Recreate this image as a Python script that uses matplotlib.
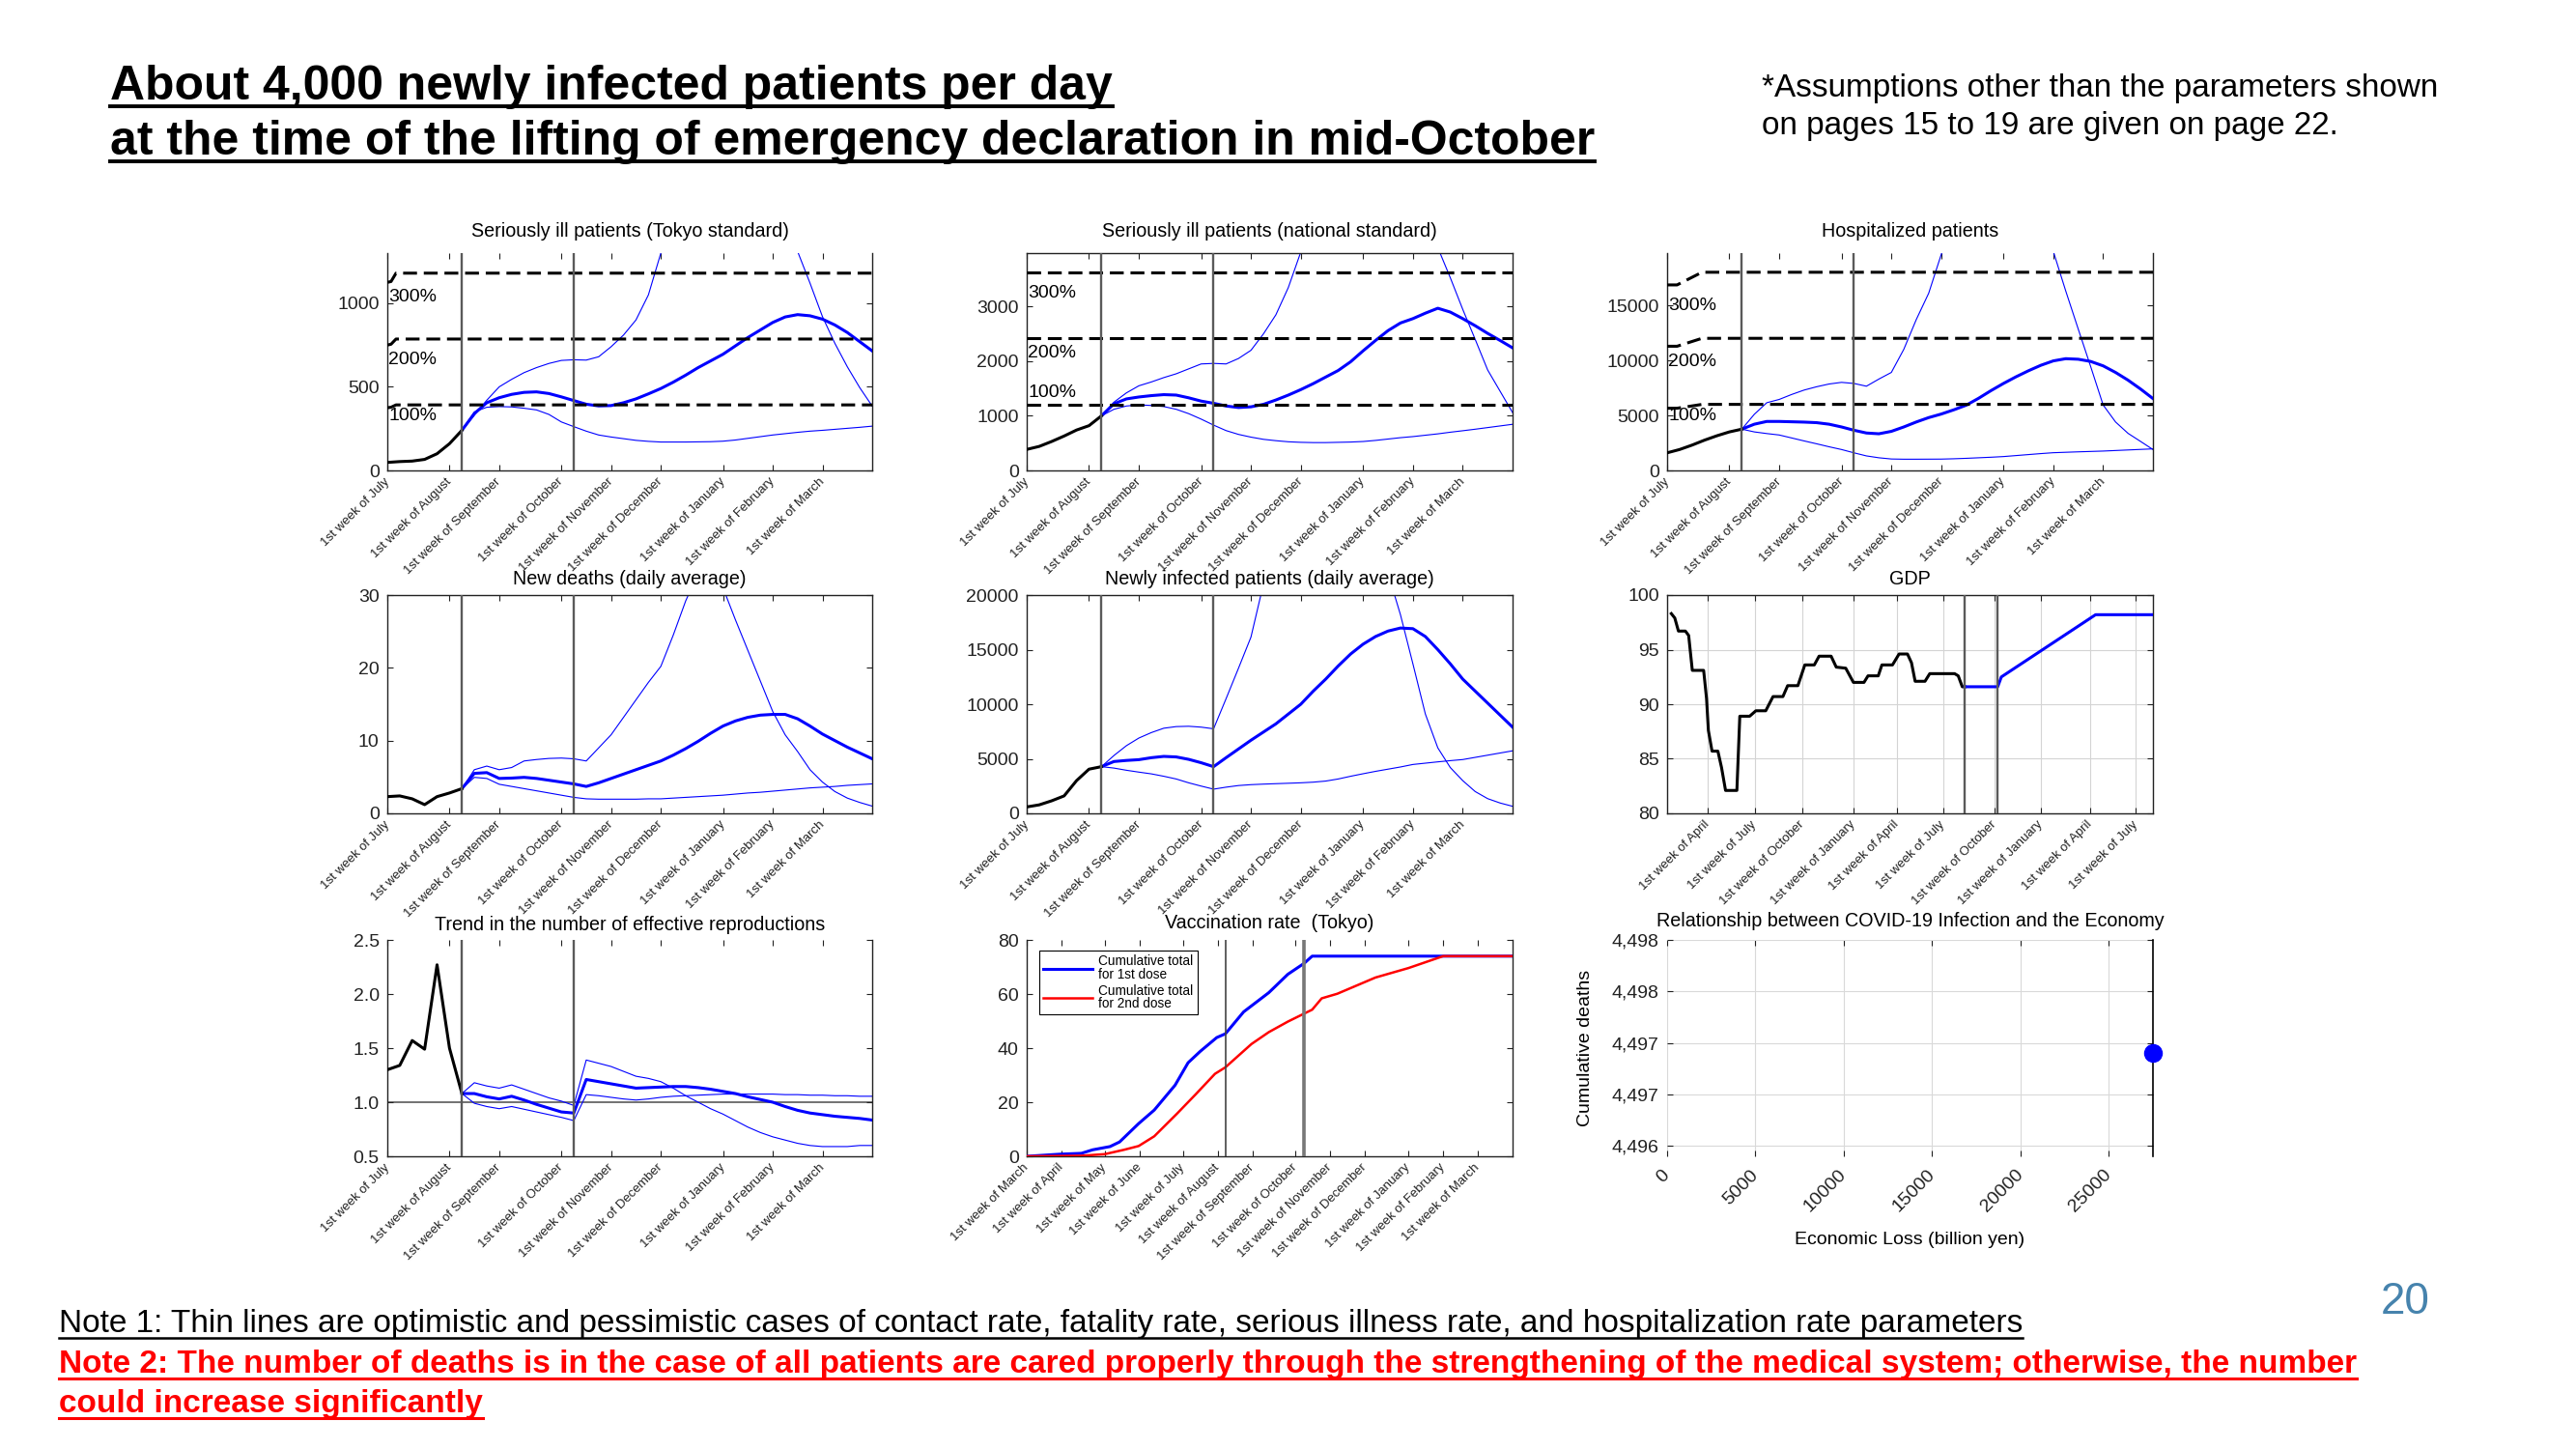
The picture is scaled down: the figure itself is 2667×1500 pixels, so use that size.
import matplotlib
matplotlib.use('Agg')
import matplotlib.pyplot as plt
from matplotlib.lines import Line2D
import numpy as np

plt.rcParams['font.family'] = ['Liberation Sans', 'DejaVu Sans']

# ---------------- slide text ----------------
header_lines = ['About 4,000 newly infected patients per day',
                'at the time of the lifting of emergency declaration in mid-October']
side_note = ['*Assumptions other than the parameters shown',
             'on pages 15 to 19 are given on page 22.']
note1 = 'Note 1: Thin lines are optimistic and pessimistic cases of contact rate, fatality rate, serious illness rate, and hospitalization rate parameters'
note2 = ['Note 2: The number of deaths is in the case of all patients are cared properly through the strengthening of the medical system; otherwise, the number',
         'could increase significantly']
page_no = '20'

# ---------------- simulation panels (weeks from 1st week of July) ----------------
hist_weeks = np.arange(0, 7)
proj_weeks = np.arange(6, 40)
month_ticks = [0, 5, 9, 14, 18, 22, 27, 31, 35]
month_labels = ['1st week of July', '1st week of August', '1st week of September',
                '1st week of October', '1st week of November', '1st week of December',
                '1st week of January', '1st week of February', '1st week of March']
emergency_weeks = [6, 15]
pct_labels = ['100%', '200%', '300%']

# seriously ill (Tokyo standard)
tokyo_hist = [48, 53, 56, 66, 100, 160, 240]
tokyo_main = [240, 340, 405, 435, 455, 467, 470, 460, 440, 418, 396, 386, 388, 405, 428, 458, 490,
              528, 570, 615, 655, 695, 745, 795, 840, 885, 918, 932, 925, 905, 870, 825, 770, 715]
tokyo_high = [240, 330, 420, 500, 545, 585, 615, 640, 658, 662, 660, 680, 740, 810, 900, 1050, 1300,
              1600, 1900, 2150, 2350, 2450, 2450, 2350, 2150, 1900, 1600, 1310, 1120, 920, 760, 620, 495, 385]
tokyo_low = [240, 350, 378, 382, 380, 372, 362, 335, 290, 262, 235, 212, 200, 190, 180, 174, 170,
             170, 170, 171, 172, 175, 182, 192, 202, 212, 220, 228, 235, 240, 246, 252, 258, 265]
tokyo_cap_x = [0, 0.3, 0.7, 39]
tokyo_cap100 = [375, 378, 392, 392]
tokyo_cap200 = [750, 755, 786, 786]
tokyo_cap300 = [1125, 1130, 1180, 1180]
tokyo_pct_y = [327, 663, 1035]

# seriously ill (national standard)
nat_hist = [385, 440, 530, 630, 740, 820, 1000]
nat_main = [1000, 1220, 1310, 1345, 1370, 1388, 1380, 1330, 1270, 1230, 1180, 1152, 1165, 1210, 1290, 1380, 1480,
            1590, 1710, 1830, 1990, 2190, 2380, 2560, 2700, 2780, 2880, 2970, 2900, 2780, 2650, 2510, 2380, 2245]
nat_high = [1000, 1250, 1420, 1550, 1620, 1700, 1770, 1860, 1950, 1960, 1950, 2050, 2200, 2500, 2850, 3350, 4000,
            4700, 5400, 6000, 6500, 6900, 7000, 6800, 6300, 5600, 4800, 4080, 3530, 2950, 2400, 1840, 1450, 1060]
nat_low = [1000, 1120, 1180, 1200, 1190, 1170, 1120, 1040, 940, 830, 730, 660, 610, 570, 545, 525, 515,
           510, 510, 515, 520, 530, 550, 575, 600, 620, 645, 670, 700, 727, 755, 785, 815, 845]
nat_cap_x = [0, 39]
nat_cap100 = [1210, 1210]
nat_cap200 = [2420, 2420]
nat_cap300 = [3630, 3630]
nat_pct_y = [1418, 2156, 3249]

# hospitalized patients
hosp_hist = [1600, 1900, 2300, 2750, 3150, 3500, 3750]
hosp_main = [3750, 4200, 4450, 4450, 4420, 4390, 4340, 4200, 3950, 3650, 3400, 3330, 3550, 3950, 4400, 4800, 5120,
             5500, 5920, 6550, 7250, 7900, 8500, 9050, 9550, 9950, 10150, 10100, 9900, 9500, 8900, 8200, 7400, 6530]
hosp_high = [3750, 5100, 6150, 6450, 6900, 7300, 7600, 7850, 8000, 7900, 7650, 8300, 8900, 11000, 13700, 16100, 19600,
             23000, 26000, 28500, 30000, 30500, 29500, 27000, 23500, 19900, 16300, 12850, 9440, 5950, 4400, 3370, 2640, 1900]
hosp_low = [3750, 3500, 3350, 3220, 2950, 2680, 2420, 2150, 1900, 1600, 1320, 1150, 1040, 1020, 1020, 1025, 1030,
            1060, 1100, 1150, 1200, 1260, 1350, 1440, 1530, 1610, 1650, 1690, 1725, 1760, 1810, 1860, 1910, 1960]
hosp_cap_x = [0, 0.8, 2.8, 39]
hosp_cap100 = [5650, 5650, 6000, 6000]
hosp_cap200 = [11280, 11280, 12000, 12000]
hosp_cap300 = [16850, 16850, 18000, 18000]
hosp_pct_y = [4920, 9900, 14940]

# new deaths
death_hist = [2.3, 2.4, 2.0, 1.2, 2.3, 2.8, 3.4]
death_main = [3.4, 5.5, 5.6, 4.8, 4.85, 4.95, 4.8, 4.55, 4.3, 4.05, 3.7, 4.2, 4.8, 5.4, 6.0, 6.6, 7.2,
              8.0, 8.9, 9.9, 11.0, 12.0, 12.7, 13.2, 13.5, 13.6, 13.6, 13.0, 12.0, 10.9, 10.0, 9.1, 8.3, 7.5]
death_high = [3.4, 6.0, 6.5, 6.0, 6.3, 7.2, 7.4, 7.55, 7.6, 7.5, 7.2, 9.0, 10.8, 13.2, 15.6, 18.0, 20.2,
              24.5, 29.2, 33.0, 34.0, 31.0, 26.6, 22.4, 18.2, 14.0, 10.8, 8.5, 6.0, 4.3, 3.0, 2.1, 1.5, 1.0]
death_low = [3.4, 4.95, 4.8, 4.0, 3.7, 3.4, 3.1, 2.8, 2.5, 2.2, 2.0, 1.95, 1.95, 1.95, 1.95, 2.0, 2.0,
             2.1, 2.2, 2.3, 2.4, 2.5, 2.65, 2.8, 2.9, 3.05, 3.2, 3.35, 3.5, 3.6, 3.7, 3.85, 3.95, 4.05]

# newly infected
inf_hist = [590, 780, 1150, 1600, 3000, 4050, 4280]
inf_main = [4280, 4750, 4850, 4920, 5100, 5220, 5170, 4950, 4640, 4280, 5100, 5900, 6700, 7450, 8200, 9100, 10000,
            11200, 12300, 13500, 14600, 15500, 16200, 16700, 16980, 16920, 16200, 15000, 13700, 12300, 11200, 10100, 9000, 7900]
inf_high = [4280, 5300, 6200, 6900, 7400, 7800, 7950, 7980, 7900, 7750, 10500, 13300, 16150, 21000, 25000, 28000, 30000,
            31000, 31000, 30000, 28500, 26500, 24500, 22000, 18200, 13700, 9100, 6000, 4200, 3000, 2000, 1350, 950, 650]
inf_low = [4280, 4150, 3950, 3780, 3620, 3400, 3150, 2800, 2500, 2220, 2400, 2550, 2630, 2680, 2720, 2760, 2800,
           2860, 2960, 3150, 3400, 3630, 3850, 4050, 4250, 4480, 4600, 4720, 4830, 4930, 5130, 5330, 5530, 5730]

# effective reproduction number
r_hist = [1.30, 1.34, 1.57, 1.49, 2.27, 1.50, 1.08]
r_main = [1.08, 1.08, 1.05, 1.03, 1.055, 1.02, 0.98, 0.945, 0.91, 0.90, 1.21, 1.19, 1.17, 1.15, 1.13, 1.135, 1.14,
          1.145, 1.145, 1.135, 1.12, 1.10, 1.08, 1.05, 1.025, 1.00, 0.96, 0.925, 0.90, 0.885, 0.87, 0.86, 0.85, 0.835]
r_high = [1.08, 1.18, 1.15, 1.13, 1.16, 1.12, 1.08, 1.04, 1.01, 0.97, 1.39, 1.36, 1.33, 1.285, 1.24, 1.22, 1.19,
          1.13, 1.06, 1.00, 0.94, 0.89, 0.83, 0.77, 0.72, 0.68, 0.65, 0.62, 0.60, 0.59, 0.59, 0.59, 0.60, 0.60]
r_low = [1.08, 0.99, 0.96, 0.94, 0.96, 0.935, 0.91, 0.885, 0.86, 0.83, 1.07, 1.06, 1.045, 1.03, 1.02, 1.03, 1.045,
         1.055, 1.06, 1.065, 1.07, 1.075, 1.075, 1.075, 1.075, 1.075, 1.07, 1.07, 1.065, 1.065, 1.06, 1.06, 1.055, 1.055]

# ---------------- GDP (weeks from mid-January 2020) ----------------
gdp_week = [1.15, 2.1, 3.1, 5.0, 5.9, 6.9, 10.0, 10.8, 11.3, 12.3, 13.9, 14.9, 16.0, 19.1, 19.9, 22.6, 24.3,
            27.0, 29.0, 31.7, 33.0, 35.8, 37.7, 40.3, 41.6, 44.9, 46.3, 48.9, 51.0, 53.9, 55.0, 57.8, 58.8,
            61.7, 63.5, 65.8, 66.9, 67.9, 70.6, 71.9, 78.7, 79.7, 80.8, 81.5]
gdp_value = [98.3, 97.9, 96.7, 96.7, 96.3, 93.1, 93.1, 90.5, 87.6, 85.7, 85.7, 84.2, 82.1, 82.1, 88.9, 88.9, 89.4,
             89.4, 90.7, 90.7, 91.7, 91.7, 93.6, 93.6, 94.4, 94.4, 93.4, 93.3, 92.0, 92.0, 92.6, 92.6, 93.6,
             93.6, 94.6, 94.6, 93.8, 92.1, 92.1, 92.8, 92.8, 92.6, 91.6, 91.6]
gdp_proj_week = [81.5, 90.5, 91.5, 117.3, 133]
gdp_proj_value = [91.6, 91.6, 92.5, 98.2, 98.2]
gdp_ticks = [11, 24, 37, 51, 63, 75.5, 89.7, 102.4, 115.8, 128.3]
gdp_labels = ['1st week of April', '1st week of July', '1st week of October', '1st week of January',
              '1st week of April', '1st week of July', '1st week of October', '1st week of January',
              '1st week of April', '1st week of July']
gdp_vlines = [81.5, 90.5]

# ---------------- vaccination (weeks from 1st week of March) ----------------
vac1_week = [0, 3.9, 6.3, 7.6, 9.6, 10.7, 12.9, 14.7, 17.1, 18.6, 20.0, 21.9, 22.9, 25.0, 27.9, 30.1, 32.0, 32.9, 56]
vac1_pct = [0, 0.8, 1.1, 2.4, 3.6, 5.3, 12.1, 17.1, 26.3, 34.6, 38.8, 43.9, 45.3, 53.4, 60.5, 67.3, 71.4, 74.0, 74.0]
vac2_week = [0, 6.3, 9.0, 11.2, 12.9, 14.7, 17.3, 19.5, 21.7, 22.9, 25.9, 27.9, 30.1, 32.0, 32.9, 34.0, 35.8,
             40.2, 44.0, 48.0, 56]
vac2_pct = [0, 0.2, 0.8, 2.4, 3.8, 7.4, 15.7, 23.0, 30.5, 32.9, 41.5, 45.9, 49.8, 52.8, 54.2, 58.4, 60.1,
            66.1, 69.6, 74.0, 74.0]
vac_ticks = [0, 4, 9, 13, 18, 22, 26, 31, 35, 39, 44, 48, 52]
vac_labels = ['1st week of March', '1st week of April', '1st week of May', '1st week of June',
              '1st week of July', '1st week of August', '1st week of September', '1st week of October',
              '1st week of November', '1st week of December', '1st week of January',
              '1st week of February', '1st week of March']
vac_vlines = [22.9, 32]

# ---------------- infection vs economy ----------------
econ_loss = [27500]
cum_deaths = [4496.9]
econ_ticks = [0, 5000, 10000, 15000, 20000, 25000]
death_ticks = [4496, 4496.5, 4497, 4497.5, 4498]
death_tick_labels = ['4,496', '4,497', '4,497', '4,498', '4,498']

# ---------------- layout ----------------
W, H = 2667, 1500
fig = plt.figure(figsize=(W / 100, H / 100), dpi=100)
cols = [(401, 903), (1063, 1566), (1726, 2229)]
rows = [(262, 487), (616, 842), (973, 1197)]
AX = '#222222'
VL = '#5a5a5a'
TFS = 14.2   # panel title size
XFS = 9.5    # rotated date labels


def new_ax(c, r):
    l, rr = cols[c]
    t, b = rows[r]
    return fig.add_axes([l / W, 1 - b / H, (rr - l) / W, (b - t) / H])


def style(ax, top=False, xpad=7):
    ax.tick_params(direction='in', top=True, right=True, length=4, width=0.8, colors=AX)
    ax.tick_params(axis='y', labelsize=14, pad=6)
    ax.tick_params(axis='x', pad=xpad)
    for sp in ax.spines.values():
        sp.set_linewidth(1.0)
        sp.set_color(AX)
    ax.spines['top'].set_visible(top)


def sim_panel(ax, title, hist, main, high, low, ylim, yticks, cap_x=None, caps=None,
              pct_y=None, top=False, pad=12):
    ax.plot(proj_weeks, high, color='blue', lw=0.8, zorder=2)
    ax.plot(proj_weeks, low, color='blue', lw=0.8, zorder=2)
    ax.plot(proj_weeks, main, color='blue', lw=2.2, zorder=3)
    ax.plot(hist_weeks, hist, color='black', lw=2.2, zorder=3)
    if caps is not None:
        for cap in caps:
            ax.plot(cap_x, cap, color='black', lw=2.2, ls=(0, (4.7, 2.3)), zorder=4)
        for y, lab in zip(pct_y, pct_labels):
            ax.text(0.08, y, lab, fontsize=14, va='center', ha='left', zorder=5)
    for v in emergency_weeks:
        ax.axvline(v, color=VL, lw=1.7, zorder=4)
    ax.set_xlim(0, 39)
    ax.set_ylim(*ylim)
    ax.set_yticks(yticks)
    style(ax, top=top)
    ax.set_xticks(month_ticks, month_labels, rotation=45, ha='right', va='center',
                  rotation_mode='anchor', fontsize=XFS)
    ax.set_title(title, fontsize=TFS, pad=pad)


ax1 = new_ax(0, 0)
sim_panel(ax1, 'Seriously ill patients (Tokyo standard)', tokyo_hist, tokyo_main, tokyo_high, tokyo_low,
          (0, 1300), [0, 500, 1000], tokyo_cap_x, [tokyo_cap100, tokyo_cap200, tokyo_cap300], tokyo_pct_y)

ax2 = new_ax(1, 0)
sim_panel(ax2, 'Seriously ill patients (national standard)', nat_hist, nat_main, nat_high, nat_low,
          (0, 3980), [0, 1000, 2000, 3000], nat_cap_x, [nat_cap100, nat_cap200, nat_cap300], nat_pct_y, top=True)

ax3 = new_ax(2, 0)
sim_panel(ax3, 'Hospitalized patients', hosp_hist, hosp_main, hosp_high, hosp_low,
          (0, 19740), [0, 5000, 10000, 15000], hosp_cap_x, [hosp_cap100, hosp_cap200, hosp_cap300], hosp_pct_y)

ax4 = new_ax(0, 1)
sim_panel(ax4, 'New deaths (daily average)', death_hist, death_main, death_high, death_low,
          (0, 30), [0, 10, 20, 30], top=True, pad=8)

ax5 = new_ax(1, 1)
sim_panel(ax5, 'Newly infected patients (daily average)', inf_hist, inf_main, inf_high, inf_low,
          (0, 20000), [0, 5000, 10000, 15000, 20000], top=True, pad=8)

ax7 = new_ax(0, 2)
ax7.axhline(1.0, color=VL, lw=1.2, zorder=1)
sim_panel(ax7, 'Trend in the number of effective reproductions', r_hist, r_main, r_high, r_low,
          (0.5, 2.5), [0.5, 1.0, 1.5, 2.0, 2.5], pad=7)
ax7.set_yticklabels(['%.1f' % t for t in [0.5, 1.0, 1.5, 2.0, 2.5]])

# GDP
ax6 = new_ax(2, 1)
ax6.grid(True, color='#d4d4d4', lw=0.8)
ax6.set_axisbelow(True)
ax6.plot(gdp_week, gdp_value, color='black', lw=2.2, zorder=3)
ax6.plot(gdp_proj_week, gdp_proj_value, color='blue', lw=2.2, zorder=3)
for v in gdp_vlines:
    ax6.axvline(v, color=VL, lw=1.7, zorder=4)
ax6.set_xlim(0, 133)
ax6.set_ylim(80, 100)
ax6.set_yticks([80, 85, 90, 95, 100])
style(ax6, top=True)
ax6.set_xticks(gdp_ticks, gdp_labels, rotation=45, ha='right', va='center', rotation_mode='anchor', fontsize=XFS)
ax6.set_title('GDP', fontsize=TFS, pad=8)

# vaccination
ax8 = new_ax(1, 2)
ax8.plot(vac1_week, vac1_pct, color='blue', lw=2.2, zorder=3, label='Cumulative total\nfor 1st dose')
ax8.plot(vac2_week, vac2_pct, color='red', lw=1.8, zorder=3, label='Cumulative total\nfor 2nd dose')
ax8.axvline(vac_vlines[0], color='#444444', lw=1.2, zorder=4)
ax8.axvline(vac_vlines[1], color='#777777', lw=2.6, zorder=4)
ax8.set_xlim(0, 56)
ax8.set_ylim(0, 80)
ax8.set_yticks([0, 20, 40, 60, 80])
style(ax8)
ax8.set_xticks(vac_ticks, vac_labels, rotation=45, ha='right', va='center', rotation_mode='anchor', fontsize=XFS)
ax8.set_title('Vaccination rate  (Tokyo)', fontsize=TFS, pad=9)
leg = ax8.legend(loc='upper left', bbox_to_anchor=(0.026, 0.951), fontsize=9.8, frameon=True, fancybox=False,
                 edgecolor='black', framealpha=1, handlelength=3.7, borderpad=0.3, labelspacing=0.25,
                 handletextpad=0.5, borderaxespad=0)
leg.get_frame().set_linewidth(0.8)
for t in leg.get_texts():
    t.set_linespacing(0.95)

# infection vs economy
ax9 = new_ax(2, 2)
ax9.grid(True, color='#d9d9d9', lw=0.8)
ax9.set_axisbelow(True)
ax9.plot(econ_loss, cum_deaths, 'o', color='blue', ms=13, clip_on=False, zorder=5)
ax9.set_xlim(0, 27500)
ax9.set_ylim(4495.9, 4498.0)
ax9.set_xticks(econ_ticks, [str(v) for v in econ_ticks], rotation=45, ha='right', va='center',
               rotation_mode='anchor', fontsize=14)
ax9.set_yticks(death_ticks, death_tick_labels)
ax9.tick_params(direction='in', top=True, right=True, length=4, width=0.8, colors=AX)
ax9.tick_params(axis='y', labelsize=14, pad=6)
ax9.tick_params(axis='x', pad=12)
for name in ['left', 'top', 'bottom']:
    ax9.spines[name].set_visible(False)
ax9.spines['right'].set_color('black')
ax9.spines['right'].set_linewidth(1.2)
ax9.set_title('Relationship between COVID-19 Infection and the Economy', fontsize=TFS, pad=10)
ax9.set_xlabel('Economic Loss (billion yen)', fontsize=14)
ax9.xaxis.set_label_coords(0.5, -0.348)
ax9.set_ylabel('Cumulative deaths', fontsize=14)
ax9.yaxis.set_label_coords(-0.151, 0.5)

# ---------------- slide text ----------------
hdr = [fig.text(114 / W, 1 - 103 / H, header_lines[0], fontsize=34, fontweight='bold', va='baseline'),
       fig.text(114 / W, 1 - 160 / H, header_lines[1], fontsize=34, fontweight='bold', va='baseline')]
side = [fig.text(1824 / W, 1 - 100 / H, side_note[0], fontsize=24, va='baseline'),
        fig.text(1824 / W, 1 - 139 / H, side_note[1], fontsize=24, va='baseline')]
n1 = fig.text(61 / W, 1 - 1379 / H, note1, fontsize=22, va='baseline')
n2 = [fig.text(61 / W, 1 - 1421 / H, note2[0], fontsize=22, fontweight='bold', color='red', va='baseline'),
      fig.text(61 / W, 1 - 1462 / H, note2[1], fontsize=22, fontweight='bold', color='red', va='baseline')]
fig.text(2490 / W, 1 - 1348 / H, page_no, fontsize=33, color='#4683ad', ha='center', va='center')

# scale slide text to the widths seen on the slide
fig.canvas.draw()
rend = fig.canvas.get_renderer()


def fit(texts, target):
    w = texts[0].get_window_extent(rend).width
    for t in texts:
        t.set_fontsize(t.get_fontsize() * target / w)


fit([hdr[0]], 1037)
fit([hdr[1]], 1537)
fit(side, 701)
fit([n1], 2030)
fit(n2, 2373)
fig.canvas.draw()


def underline(t, color, lw, off):
    bb = t.get_window_extent(rend)
    yb = fig.transFigure.transform(t.get_position())[1]
    y = yb - off * t.get_fontsize() * 100 / 72
    fig.add_artist(Line2D([bb.x0 / W, bb.x1 / W], [y / H, y / H], transform=fig.transFigure,
                          color=color, lw=lw))


for t in hdr:
    underline(t, 'black', 2.8, 0.15)
underline(n1, 'black', 1.8, 0.17)
for t in n2:
    underline(t, 'red', 2.2, 0.17)

fig.savefig('out.png', dpi=100)
